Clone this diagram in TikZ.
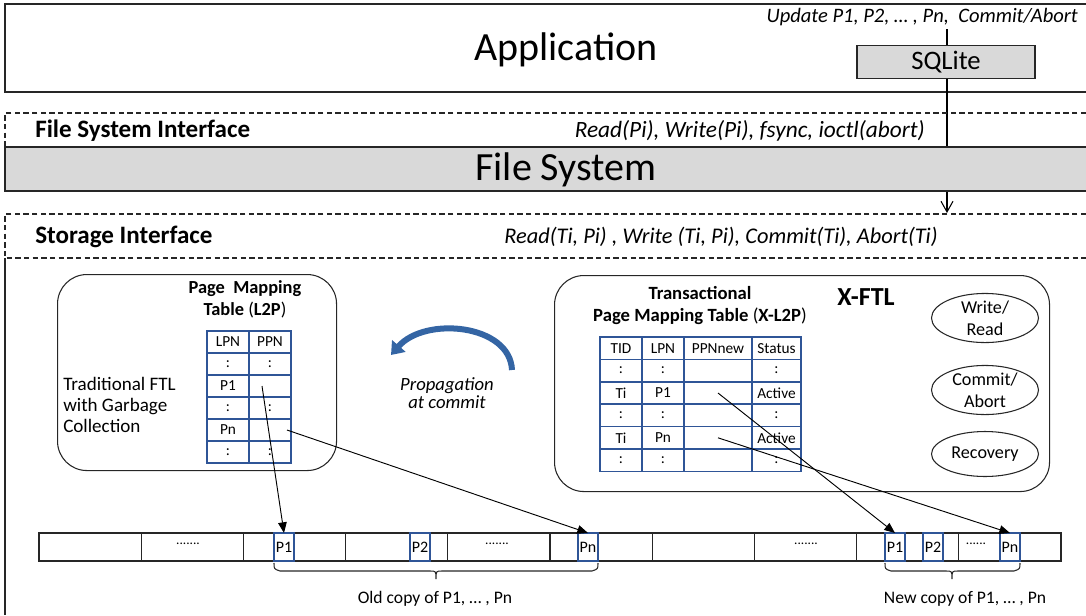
\documentclass[tikz,border=0pt]{standalone}
\usepackage{fontspec}
\setmainfont{Carlito}
\usetikzlibrary{shapes.geometric,arrows.meta}
\definecolor{tblue}{HTML}{2F5597}
\definecolor{fsgray}{HTML}{D9D9D9}
\definecolor{arrblue}{HTML}{3465A4}
\definecolor{dline}{HTML}{262626}
\begin{document}
\begin{tikzpicture}[x=0.75pt,y=-0.75pt,
  frame/.style={draw=dline,line width=0.9pt},
  dashframe/.style={draw=dline,line width=0.8pt,dash pattern=on 4pt off 2.5pt},
  cell/.style={draw=tblue,line width=1.3pt,inner sep=0pt,outer sep=0pt,minimum height=22*0.75pt,font=\fontsize{11.5}{13}\selectfont,anchor=north west},
  rcell/.style={cell,minimum height=22.4*0.75pt},
  barcell/.style={draw=dline,line width=0.8pt,inner sep=0pt,outer sep=0pt,minimum width=102.2*0.75pt,minimum height=28*0.75pt,anchor=north west,font=\fontsize{10}{12}\selectfont},
  pbox/.style={draw=tblue,line width=1.1pt,fill=white,inner sep=0pt,outer sep=0pt,minimum width=20*0.75pt,minimum height=28*0.75pt,font=\fontsize{12}{14}\selectfont},
  func/.style={draw=dline,line width=0.8pt,ellipse,minimum width=107*0.75pt,minimum height=45*0.75pt,inner sep=0pt,align=center,font=\fontsize{13.6}{16.5}\selectfont},
  panel/.style={draw=dline,line width=0.8pt,rounded corners=22pt,anchor=north west,inner sep=0pt},
  conn/.style={draw=black,line width=0.7pt,-{Triangle[length=8pt,width=6.5pt]}},
  lbl/.style={inner sep=0pt}
]
\useasboundingbox (0,0) rectangle (1086,615);

% Application layer
\draw[frame] (1086,4) -- (5,4) -- (5,92) -- (1086,92);
\node[lbl,font=\fontsize{30}{34}\selectfont] (app) at (566,50) {Application};
\node[lbl,anchor=east,font=\fontsize{15.4}{18}\selectfont\itshape] (upd) at (1078,17) {Update P1, P2, … , Pn,\ \ Commit/Abort};
\coordinate (ustart) at (947,29);
\coordinate (uend) at (947,213);
\draw[line width=0.8pt,-{Straight Barb[length=8pt,width=9pt]}] (ustart) -- (uend);
\node[draw=dline,line width=0.8pt,fill=fsgray,minimum width=178*0.75pt,minimum height=33*0.75pt,inner sep=0pt,font=\fontsize{20}{24}\selectfont] (sql) at (946,62) {SQLite};

% File system interface
\draw[dashframe] (1086,113) -- (5,113) -- (5,147);
\node[lbl,anchor=west,font=\fontsize{18.8}{22}\selectfont\bfseries] (fsi) at (35,131) {File System Interface};
\node[lbl,anchor=east,font=\fontsize{17.5}{20}\selectfont\itshape] (fsiops) at (925,131) {Read(Pi), Write(Pi), fsync, ioctl(abort)};

% File system
\fill[fsgray] (5,147) rectangle (1086,191);
\draw[frame] (1086,147) -- (5,147) -- (5,191) -- (1086,191);
\node[lbl,font=\fontsize{30}{34}\selectfont] (fs) at (566,170) {File System};

% Storage interface
\draw[dashframe] (1086,214) -- (5,214) -- (5,258) -- (1086,258);
\node[lbl,anchor=west,font=\fontsize{18.8}{22}\selectfont\bfseries] (sti) at (35,237) {Storage Interface};
\node[lbl,anchor=east,font=\fontsize{16.8}{20}\selectfont\itshape] (stiops) at (938,237) {Read(Ti, Pi) , Write (Ti, Pi), Commit(Ti), Abort(Ti)};
\draw[frame] (5,258) -- (5,615);

% Traditional FTL panel
\node[panel,minimum width=279*0.75pt,minimum height=196*0.75pt] (ftl) at (57,274) {};
\node[lbl,align=center,font=\fontsize{13.8}{16.5}\selectfont\bfseries] (l2ptitle) at (245,299) {Page\ \ Mapping\\Table \textmd{(}L2P\textmd{)}};
\node[lbl,anchor=west,align=left,font=\fontsize{14.3}{15.5}\selectfont] (tradtxt) at (63,405) {Traditional FTL\\with Garbage\\Collection};
\foreach \r/\a/\b in {0/LPN/PPN,1/:/:,2/P1/{},3/:/:,4/Pn/{},5/:/:} {
  \node[cell,minimum width=42*0.75pt] (L-\r-0) at (207,{331+22*\r}) {\a};
  \node[cell,minimum width=42*0.75pt] (L-\r-1) at (249,{331+22*\r}) {\b};
}

% Propagation arrow
\draw[arrblue,line width=4.5pt,-{Triangle[length=9pt,width=13pt]}] (512,370) .. controls (510,324) and (425,316) .. (391,355);
\node[lbl,align=center,font=\fontsize{14}{12}\selectfont\itshape] (prop) at (447,393) {Propagation\\at commit};

% X-FTL panel
\node[panel,minimum width=495*0.75pt,minimum height=216*0.75pt] (xftl) at (554,275) {};
\node[lbl,font=\fontsize{19.5}{23}\selectfont\bfseries] (xftltitle) at (866,297) {X-FTL};
\node[lbl,align=center,font=\fontsize{14}{16.5}\selectfont\bfseries] (xl2ptitle) at (700,306) {Transactional\\Page Mapping Table \textmd{(}X-L2P\textmd{)}};
\foreach \r/\a/\b/\c/\d in {0/TID/LPN/PPNnew/Status,1/:/:/{}/:,2/Ti/P1/{}/Active,3/:/:/{}/:,4/Ti/Pn/{}/Active,5/:/:/{}/:} {
  \node[rcell,minimum width=42*0.75pt] (R-\r-0) at (600,{337+22.4*\r}) {\a};
  \node[rcell,minimum width=42*0.75pt] (R-\r-1) at (642,{337+22.4*\r}) {\b};
  \node[rcell,minimum width=68*0.75pt] (R-\r-2) at (684,{337+22.4*\r}) {\c};
  \node[rcell,minimum width=49*0.75pt] (R-\r-3) at (752,{337+22.4*\r}) {\d};
}
\node[func] (wr) at (985,318) {Write/\\Read};
\node[func] (ca) at (985,390) {Commit/\\Abort};
\node[func] (rec) at (985,454) {Recovery};

% Flash storage bar
\foreach \k in {1,...,10} {
  \node[barcell] (B\k) at ({39+102.2*(\k-1)},533) {};
}
\node[lbl,font=\fontsize{10}{12}\selectfont] (d1) at (188,544) {.......};
\node[lbl,font=\fontsize{10}{12}\selectfont] (d2) at (497,544) {.......};
\node[lbl,font=\fontsize{10}{12}\selectfont] (d3) at (806,544) {.......};
\node[lbl,font=\fontsize{10}{12}\selectfont] (d4) at (976,544) {......};
\node[pbox] (oP1) at (284,547) {P1};
\node[pbox] (oP2) at (420,547) {P2};
\node[pbox] (oPn) at (588,547) {Pn};
\node[pbox] (nP1) at (895,547) {P1};
\node[pbox] (nP2) at (933,547) {P2};
\node[pbox] (nPn) at (1010,547) {Pn};

% Mapping connectors
\draw[conn] ([xshift=-6pt]L-2-1.center) -- (oP1.north);
\draw[conn] ([xshift=12.75pt]L-4-1.center) -- (oPn.north);
\draw[conn] (R-2-2.center) -- (nP1.north);
\draw[conn] (R-4-2.center) -- (nPn.north);

% Braces
\draw[line width=0.8pt,dline] (274,563) .. controls (274,569) .. (280,571) -- (430,571) .. controls (436,571) .. (436,579) .. controls (436,571) .. (442,571) -- (592,571) .. controls (598,569) .. (598,563);
\draw[line width=0.8pt,dline] (885,563) .. controls (885,569) .. (891,571) -- (946,571) .. controls (952,571) .. (952,579) .. controls (952,571) .. (958,571) -- (1014,571) .. controls (1020,569) .. (1020,563);
\node[lbl,font=\fontsize{13.2}{15}\selectfont] (oldtxt) at (435,599) {Old copy of P1, … , Pn};
\node[lbl,font=\fontsize{13.2}{15}\selectfont] (newtxt) at (965,599) {New copy of P1, … , Pn};
\end{tikzpicture}
\end{document}
